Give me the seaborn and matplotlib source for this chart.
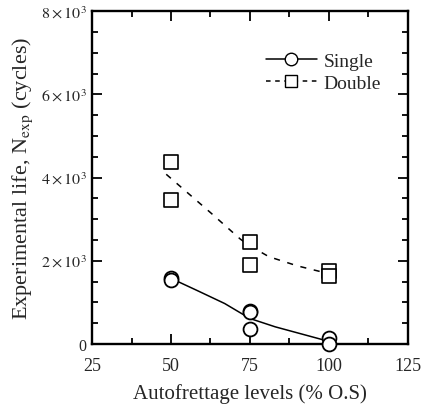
import numpy as np
import pandas as pd
import matplotlib
matplotlib.use("Agg")
import matplotlib.pyplot as plt
from matplotlib.lines import Line2D
from matplotlib.ticker import MultipleLocator, FixedLocator, FixedFormatter
import seaborn as sns

# ---- data ----
single_x = [50, 50, 75, 75, 75, 100, 100]
single_y = [1600, 1535, 800, 760, 360, 136, 0]
double_x = [50, 50, 75, 75, 100, 100]
double_y = [4372, 3470, 2450, 1895, 1760, 1640]

single_fit_x = [50, 58.5, 67, 75, 83, 91.5, 100]
single_fit_y = [1580, 1280, 975, 615, 415, 240, 65]
double_fit_x = [48.5, 62.5, 72, 75, 81, 90, 98.5]
double_fit_y = [4080, 3160, 2520, 2360, 2100, 1880, 1720]

x_ticks = [25, 50, 75, 100, 125]
y_ticks = [0, 2000, 4000, 6000, 8000]
y_tick_labels = ["0", r"$2 \times 10^3$", r"$4 \times 10^3$", r"$6 \times 10^3$", r"$8 \times 10^3$"]

sns.set_theme(style="white")
plt.rcParams["font.family"] = ["Liberation Serif", "DejaVu Serif"]
plt.rcParams["mathtext.fontset"] = "stix"

fig = plt.figure(figsize=(4.28, 4.06), dpi=100)
ax = fig.add_axes([0.215, 0.150, 0.738, 0.820])

sf = pd.DataFrame({"x": single_fit_x, "y": single_fit_y})
df_ = pd.DataFrame({"x": double_fit_x, "y": double_fit_y})

sns.lineplot(data=sf, x="x", y="y", ax=ax, color="black", lw=1.1, sort=False)
sns.lineplot(data=df_, x="x", y="y", ax=ax, color="black", lw=1.1, sort=False)
ax.lines[-1].set_dashes((4, 5))

ax.scatter(single_x, single_y, s=100, marker="o", facecolors="white",
           edgecolors="black", linewidths=1.3, zorder=3, clip_on=False)
ax.scatter(double_x, double_y, s=100, marker="s", facecolors="white",
           edgecolors="black", linewidths=1.2, zorder=3, clip_on=False)

ax.set_xlim(25, 125)
ax.set_ylim(0, 8000)
ax.xaxis.set_major_locator(FixedLocator(x_ticks))
ax.xaxis.set_minor_locator(MultipleLocator(12.5))
ax.yaxis.set_major_locator(FixedLocator(y_ticks))
ax.yaxis.set_major_formatter(FixedFormatter(y_tick_labels))
ax.yaxis.set_minor_locator(MultipleLocator(500))

ax.tick_params(which="both", direction="in", top=True, right=True, bottom=True, left=True,
               color="black", width=1.3)
ax.tick_params(which="major", length=7)
ax.tick_params(which="minor", length=4)
ax.tick_params(axis="x", labelsize=13, pad=9)
ax.tick_params(axis="y", labelsize=11.5, pad=4)
for sp in ax.spines.values():
    sp.set_linewidth(1.7)
    sp.set_color("black")

ax.set_xlabel("Autofrettage levels (% O.S)", fontsize=15, labelpad=7)
ax.set_ylabel(r"Experimental life, N$_{\mathrm{exp}}$ (cycles)", fontsize=16, labelpad=4)

handles = [
    Line2D([0], [0], color="black", lw=1.1, marker="o", markersize=9,
           markerfacecolor="white", markeredgecolor="black"),
    Line2D([0], [0], color="black", lw=1.1, linestyle=(0, (3, 3)), marker="s",
           markersize=8, markerfacecolor="white", markeredgecolor="black"),
]
ax.legend(handles, ["Single", "Double"], loc="upper right", bbox_to_anchor=(0.97, 0.93),
          frameon=False, fontsize=14, handlelength=2.6, handletextpad=0.35,
          labelspacing=0.25)

fig.savefig("out.png", dpi=100)
